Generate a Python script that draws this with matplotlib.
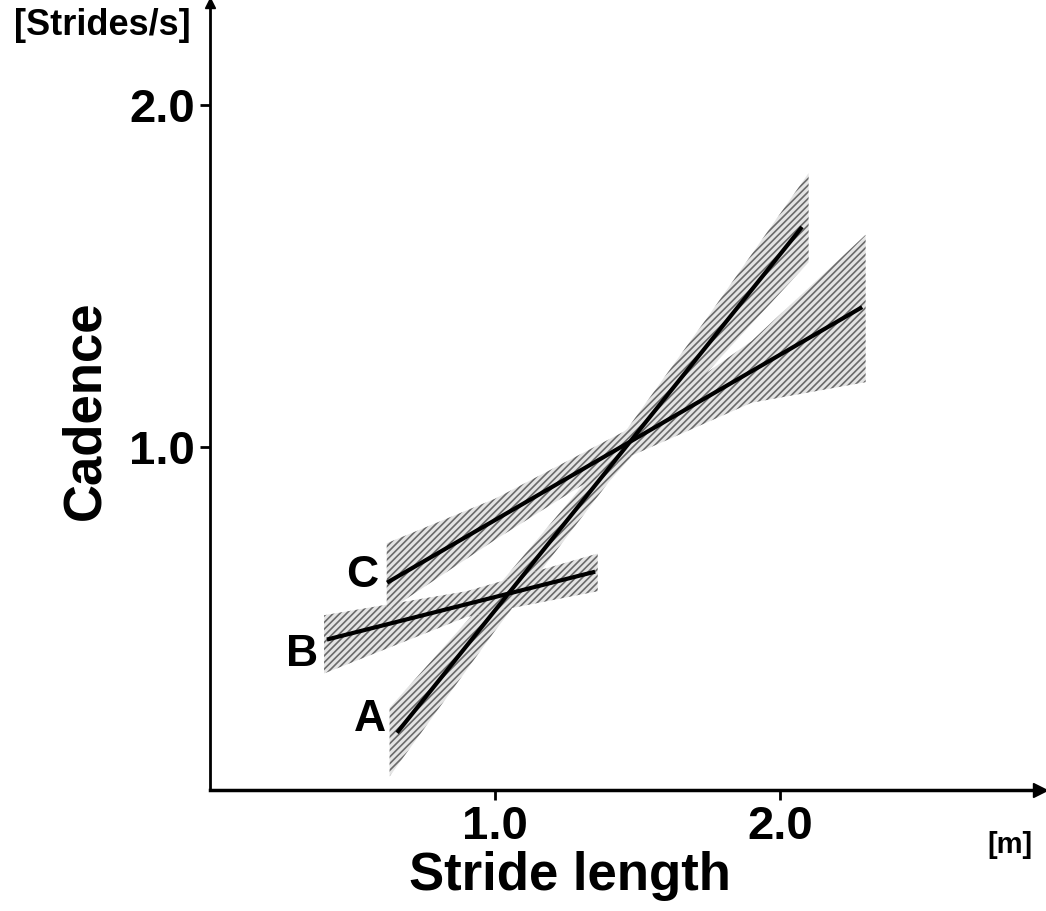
import matplotlib.pyplot as plt

# regression lines (stride length [m] vs cadence [strides/s])
stride_A = [0.656, 2.077]
cadence_A = [0.167, 1.643]
stride_B = [0.41, 1.351]
cadence_B = [0.439, 0.637]
stride_C = [0.621, 2.288]
cadence_C = [0.605, 1.409]

# confidence bands
band_x_A = [0.63, 1.0, 1.40, 1.75, 2.10]
band_lo_A = [0.04, 0.465, 0.90, 1.225, 1.54]
band_hi_A = [0.24, 0.585, 0.98, 1.385, 1.80]
band_x_B = [0.40, 0.90, 1.36]
band_lo_B = [0.34, 0.505, 0.58]
band_hi_B = [0.51, 0.58, 0.69]
band_x_C = [0.62, 1.0, 1.45, 1.90, 2.30]
band_lo_C = [0.52, 0.73, 0.965, 1.13, 1.19]
band_hi_C = [0.72, 0.85, 1.045, 1.31, 1.62]

x_ticks = [1.0, 2.0]
x_tick_labels = ['1.0', '2.0']
y_ticks = [1.0, 2.0]
y_tick_labels = ['1.0', '2.0']

plt.rcParams['font.family'] = ['Liberation Sans', 'DejaVu Sans']
plt.rcParams['font.weight'] = 'bold'
plt.rcParams['axes.labelweight'] = 'bold'
plt.rcParams['hatch.linewidth'] = 1.2

fig = plt.figure(figsize=(10.46, 9.11), dpi=100)
ax = fig.add_axes([0.2008, 0.1328, 0.7935, 0.8634])
ax.set_xlim(0, 2.912)
ax.set_ylim(0, 2.295)

bands = [(band_x_A, band_lo_A, band_hi_A),
         (band_x_B, band_lo_B, band_hi_B),
         (band_x_C, band_lo_C, band_hi_C)]
for bx, lo, hi in bands:
    ax.fill_between(bx, lo, hi, facecolor='#e4e4e4', edgecolor='#6a6a6a',
                    hatch='/////', linewidth=0, zorder=1)

for sx, cy in [(stride_A, cadence_A), (stride_B, cadence_B), (stride_C, cadence_C)]:
    ax.plot(sx, cy, color='black', lw=3, solid_capstyle='butt', zorder=3)

ax.text(stride_A[0] - 0.04, cadence_A[0] + 0.04, 'A', ha='right', va='center', fontsize=32)
ax.text(stride_B[0] - 0.03, cadence_B[0] - 0.045, 'B', ha='right', va='center', fontsize=32)
ax.text(stride_C[0] - 0.03, cadence_C[0] + 0.02, 'C', ha='right', va='center', fontsize=32)

for side in ['top', 'right']:
    ax.spines[side].set_visible(False)
ax.spines['left'].set_linewidth(2)
ax.spines['bottom'].set_linewidth(2.5)
ax.plot(1, 0, '>', color='black', ms=10, transform=ax.transAxes, clip_on=False)
ax.plot(0, 1, '^', color='black', ms=7, transform=ax.transAxes, clip_on=False)

ax.set_xticks(x_ticks)
ax.set_xticklabels(x_tick_labels, fontsize=34)
ax.set_yticks(y_ticks)
ax.set_yticklabels(y_tick_labels, fontsize=34)
ax.tick_params(axis='both', length=7, width=2, direction='out', pad=4)

ax.set_xlabel('Stride length', fontsize=38)
ax.xaxis.set_label_coords(0.434, -0.078)
ax.set_ylabel('Cadence', fontsize=38)
ax.yaxis.set_label_coords(-0.12, 0.483)

fig.text(0.013, 0.972, '[Strides/s]', fontsize=26, ha='left', va='center')
fig.text(0.987, 0.072, '[m]', fontsize=21, ha='right', va='center')

fig.savefig('out.png', dpi=100)
